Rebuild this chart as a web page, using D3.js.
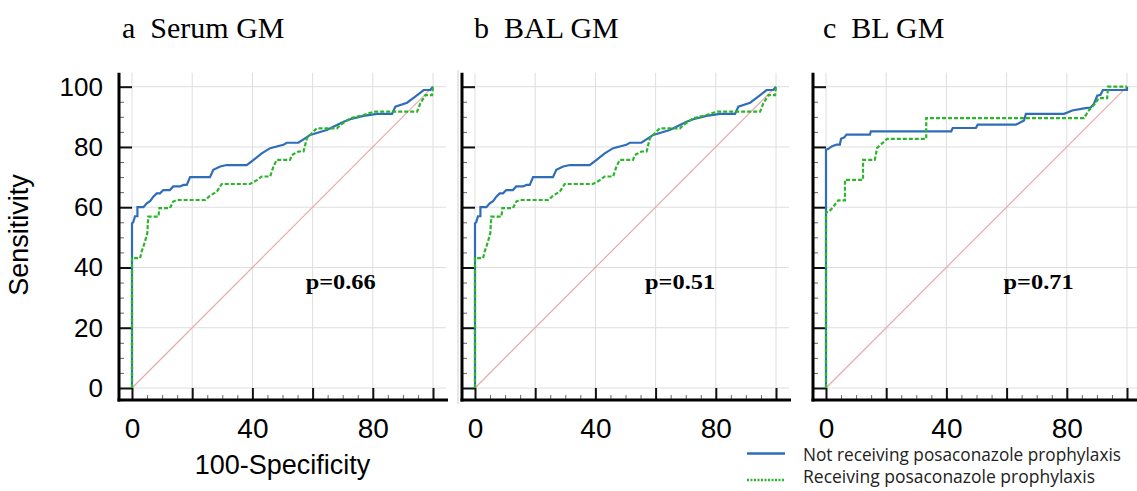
<!DOCTYPE html>
<html>
<head>
<meta charset="utf-8">
<script src="https://cdn.jsdelivr.net/npm/d3@7"></script>
<style>
  body { margin: 0; background: #fff; }
  svg { display: block; }
</style>
</head>
<body>
<div id="chart"></div>
<script>
const width = 1137;
const height = 491;

// panel titles and p values
const panelTitles = ["a  Serum GM", "b  BAL GM", "c  BL GM"];
const pValues = ["p=0.66", "p=0.51", "p=0.71"];

const xTicks = [0, 40, 80];
const yTicks = [0, 20, 40, 60, 80, 100];

// ROC points [100-specificity, sensitivity]
// a: Serum GM, not receiving posaconazole
const serumNot = [
    [0, 0], [0, 54.7], [0.4, 55], [1.0, 57], [1.8, 57], [1.8, 60], [3.8, 60], [4.9, 61.3],
    [6.0, 62], [7.1, 63.5], [8.2, 64.6], [9.3, 64.6], [10.4, 65.7], [12.6, 65.7], [13.7, 66.9],
    [16, 66.9], [17.1, 67.4], [18.2, 67.4], [19.3, 70], [25.9, 70], [27, 72.4], [29.3, 73.5],
    [31.5, 74], [38.1, 74], [40.4, 75.7], [43.1, 77.9], [45.9, 79.6], [50.3, 80.7], [51.4, 81.4],
    [55.3, 81.4], [59.2, 84], [64.7, 85.6], [70.3, 88.4], [72.5, 89.2], [76.9, 90.3], [81.4, 91],
    [86.4, 91], [87.5, 93.4], [91.4, 94.7], [94.1, 96.7], [96.9, 98.9], [99.1, 98.9], [100, 100]
];
// a: Serum GM, receiving posaconazole
const serumRec = [
    [0, 0], [0, 43.1], [2.7, 43.1], [3.2, 45.3], [3.8, 47], [4.3, 48.6], [5.1, 51.4], [5.4, 56.9],
    [8.8, 56.9], [9.1, 59.7], [12.6, 59.7], [13.7, 61.9], [14.9, 62.4], [24.3, 62.4], [25.9, 63.8],
    [28.2, 65.2], [29.8, 67.7], [39.2, 67.7], [41.5, 69], [43.1, 70.2], [45.9, 70.2], [47, 73.5],
    [48.1, 75.7], [52.5, 75.7], [53.1, 77.3], [55.3, 78.5], [57, 78.5], [58.1, 82.9], [59.2, 84],
    [61.4, 86.2], [68.1, 86.2], [69.2, 87.3], [72.5, 89.5], [76.9, 90.6], [80.3, 91.7],
    [94.7, 91.7], [95.8, 94.5], [97.5, 97.2], [99.7, 97.2], [100, 100]
];
// b: BAL GM (drawn with the same curves as panel a in the figure)
const balNot = serumNot;
const balRec = serumRec;
// c: BL GM
const blNot = [
    [0, 0], [0, 79.1], [0.8, 79.4], [1.9, 80.2], [3.5, 80.8], [4.6, 80.8], [5, 82.7], [6.1, 83.2],
    [6.8, 84.1], [14.6, 84.1], [14.9, 85.2], [41.6, 85.2], [42.1, 86.3], [49.8, 86.3], [50.4, 87.4],
    [63.1, 87.4], [65.8, 88.8], [66.4, 91], [79.1, 91], [81.8, 92.1], [86.2, 92.9], [87.9, 93.1],
    [89, 94.3], [90.1, 97], [91.2, 97.3], [92, 98.9], [100, 98.9], [100, 100]
];
const blRec = [
    [0, 0], [0, 58.4], [0.8, 58.4], [1.9, 59.5], [4.1, 62.3], [6.3, 62.3], [6.3, 69.1], [12.3, 69.1],
    [12.3, 75.7], [16.2, 75.7], [17, 79.7], [20.3, 82.7], [33.3, 82.7], [33.3, 89.6], [85.7, 89.6],
    [87.3, 92.1], [89.3, 94.3], [90.6, 96.2], [93.4, 96.2], [93.7, 100], [100, 100]
];

const legendLabels = ["Not receiving posaconazole prophylaxis", "Receiving posaconazole prophylaxis"];

const blue = "#2f6db8";
const green = "#2bb52b";

const panels = [
    { left: 132, not: serumNot, rec: serumRec, titleX: 122, pX: 57.7, labels: true },
    { left: 475, not: balNot, rec: balRec, titleX: 474, pX: 56.5, labels: false },
    { left: 826, not: blNot, rec: blRec, titleX: 823, pX: 59, labels: false }
];

const plotW = 301;
const yTop = 86.7, yBottom = 388;
const pad = 13;

const svg = d3.select("#chart").append("svg")
    .attr("width", width)
    .attr("height", height);

// faint frame line between first two images
svg.append("line")
    .attr("x1", 458).attr("x2", 458)
    .attr("y1", 70).attr("y2", 404)
    .style("stroke", "#d0d0d0")
    .style("stroke-width", 1);

panels.forEach((p, i) => {
    const x = d3.scaleLinear().domain([0, 100]).range([p.left, p.left + plotW]);
    const y = d3.scaleLinear().domain([0, 100]).range([yBottom, yTop]);
    const g = svg.append("g");

    const gridVals = d3.range(0, 101, 20);
    // grid
    g.append("g").selectAll("line")
        .data(gridVals)
        .enter().append("line")
        .attr("x1", d => x(d)).attr("x2", d => x(d))
        .attr("y1", yTop - 14).attr("y2", yBottom + 12)
        .style("stroke", "#dedede").style("stroke-width", 1);
    g.append("g").selectAll("line")
        .data(gridVals)
        .enter().append("line")
        .attr("x1", x(0) - pad).attr("x2", x(100) + pad)
        .attr("y1", d => y(d)).attr("y2", d => y(d))
        .style("stroke", "#dedede").style("stroke-width", 1);

    // diagonal reference
    g.append("line")
        .attr("x1", x(0)).attr("y1", y(0))
        .attr("x2", x(100)).attr("y2", y(100))
        .style("stroke", "#e9aaaa").style("stroke-width", 1.2);

    // minor ticks
    const minor = d3.range(5, 100, 5).filter(d => d % 20 !== 0);
    g.append("g")
        .attr("transform", `translate(${x(0) - pad},0)`)
        .call(d3.axisLeft(y).tickValues(minor).tickSize(-5).tickFormat(""))
        .call(a => a.select(".domain").remove())
        .call(a => a.selectAll("line").style("stroke", "#666").style("stroke-width", 1));
    g.append("g")
        .attr("transform", `translate(0,${yBottom + 12})`)
        .call(d3.axisBottom(x).tickValues(minor).tickSize(-5).tickFormat(""))
        .call(a => a.select(".domain").remove())
        .call(a => a.selectAll("line").style("stroke", "#666").style("stroke-width", 1));

    // major ticks + labels
    const yAxis = d3.axisLeft(y).tickValues(yTicks.concat([])).tickSize(pad).tickPadding(16);
    if (!p.labels) yAxis.tickFormat("");
    g.append("g")
        .attr("transform", `translate(${x(0)},0)`)
        .call(d3.axisLeft(y).tickValues(gridVals).tickSize(pad).tickFormat(""))
        .call(a => a.select(".domain").remove())
        .call(a => a.selectAll("line").style("stroke", "#111").style("stroke-width", 2));
    if (p.labels) {
        g.append("g")
            .attr("transform", `translate(${x(0)},0)`)
            .call(yAxis)
            .call(a => a.select(".domain").remove())
            .call(a => a.selectAll("line").remove())
            .call(a => a.selectAll("text")
                .style("font-family", "'Liberation Sans', Arial, sans-serif")
                .style("font-size", "26px").style("fill", "#000"));
    }
    g.append("g")
        .attr("transform", `translate(0,${yBottom})`)
        .call(d3.axisBottom(x).tickValues(gridVals).tickSize(12).tickFormat(""))
        .call(a => a.select(".domain").remove())
        .call(a => a.selectAll("line").style("stroke", "#111").style("stroke-width", 2));
    g.append("g")
        .attr("transform", `translate(0,${yBottom})`)
        .call(d3.axisBottom(x).tickValues(xTicks).tickSize(12).tickPadding(18))
        .call(a => a.select(".domain").remove())
        .call(a => a.selectAll("line").remove())
        .call(a => a.selectAll("text")
            .style("font-family", "'Liberation Sans', Arial, sans-serif")
            .style("font-size", "28px").style("fill", "#000"));

    // axis lines
    g.append("line")
        .attr("x1", x(0) - pad).attr("x2", x(0) - pad)
        .attr("y1", yTop - 14).attr("y2", yBottom + 13.5)
        .style("stroke", "#000").style("stroke-width", 3);
    g.append("line")
        .attr("x1", x(0) - pad - 1.5).attr("x2", x(100) + pad + 2)
        .attr("y1", yBottom + 12).attr("y2", yBottom + 12)
        .style("stroke", "#000").style("stroke-width", 3);

    // curves
    const line = d3.line().x(d => x(d[0])).y(d => y(d[1]));
    g.append("path")
        .datum(p.not)
        .attr("d", line)
        .style("fill", "none").style("stroke", blue).style("stroke-width", 2.2);
    g.append("path")
        .datum(p.rec)
        .attr("d", line)
        .style("fill", "none").style("stroke", green).style("stroke-width", 2.2)
        .style("stroke-dasharray", "4,2");

    // p value
    g.append("text")
        .attr("x", x(p.pX)).attr("y", 289)
        .attr("textLength", 70).attr("lengthAdjust", "spacingAndGlyphs")
        .style("font-family", "'Liberation Serif', 'Times New Roman', serif")
        .style("font-weight", "bold").style("font-size", "21px")
        .text(pValues[i]);

    // panel title
    svg.append("text")
        .attr("x", p.titleX).attr("y", 38)
        .style("font-family", "'Liberation Serif', 'Times New Roman', serif")
        .style("font-size", "30px").style("white-space", "pre")
        .attr("xml:space", "preserve")
        .text(panelTitles[i]);
});

// axis titles
svg.append("text")
    .attr("transform", "translate(28,235) rotate(-90)")
    .attr("text-anchor", "middle")
    .style("font-family", "'Liberation Sans', Arial, sans-serif")
    .style("font-size", "27px")
    .text("Sensitivity");

svg.append("text")
    .attr("x", 282.5).attr("y", 474)
    .attr("text-anchor", "middle")
    .style("font-family", "'Liberation Sans', Arial, sans-serif")
    .style("font-size", "27px")
    .text("100-Specificity");

// legend
const legend = svg.append("g");
const legendRows = [
    { y: 453.5, ty: 460.5, color: blue, dash: null, w: 318 },
    { y: 480, ty: 483, color: green, dash: "2,1.5", w: 292 }
];
legendRows.forEach((r, i) => {
    legend.append("line")
        .attr("x1", 747).attr("x2", 785)
        .attr("y1", r.y).attr("y2", r.y)
        .style("stroke", r.color).style("stroke-width", 2.5)
        .style("stroke-dasharray", r.dash);
    legend.append("text")
        .attr("x", 803).attr("y", r.ty)
        .attr("textLength", r.w).attr("lengthAdjust", "spacingAndGlyphs")
        .style("font-family", "'Open Sans', sans-serif")
        .style("font-size", "18px").style("fill", "#222")
        .text(legendLabels[i]);
});
</script>
</body>
</html>
